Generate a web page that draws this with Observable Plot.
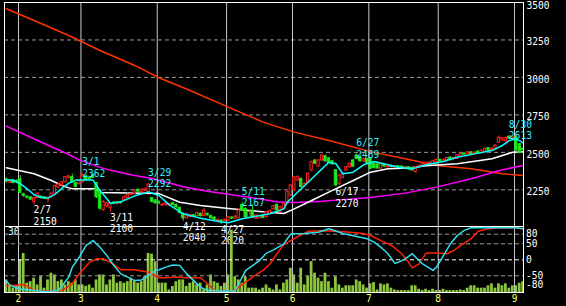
<!DOCTYPE html>
<html><head><meta charset="utf-8">
<script src="https://cdn.jsdelivr.net/npm/d3@7"></script>
<script src="https://cdn.jsdelivr.net/npm/@observablehq/plot@0.6"></script>
<style>
html,body{margin:0;padding:0;background:#000;}
#chart{position:relative;width:566px;height:306px;background:#000;overflow:hidden;}
#chart svg{position:absolute;left:0;}
</style></head><body><div id="chart"></div>
<script>
// ---- data (2022 trading days) ----
const dates = [
"1/26","1/27","1/28","1/31",
"2/1","2/2","2/3","2/4","2/7","2/8","2/9","2/10","2/14","2/15","2/16","2/17","2/18","2/21","2/22","2/24","2/25","2/28",
"3/1","3/2","3/3","3/4","3/7","3/8","3/9","3/10","3/11","3/14","3/15","3/16","3/17","3/18","3/22","3/23","3/24","3/25","3/28","3/29","3/30","3/31",
"4/1","4/4","4/5","4/6","4/7","4/8","4/11","4/12","4/13","4/14","4/15","4/18","4/19","4/20","4/21","4/22","4/25","4/26","4/27","4/28",
"5/2","5/6","5/9","5/10","5/11","5/12","5/13","5/16","5/17","5/18","5/19","5/20","5/23","5/24","5/25","5/26","5/27","5/30","5/31",
"6/1","6/2","6/3","6/6","6/7","6/8","6/9","6/10","6/13","6/14","6/15","6/16","6/17","6/20","6/21","6/22","6/23","6/24","6/27","6/28","6/29","6/30",
"7/1","7/4","7/5","7/6","7/7","7/8","7/11","7/12","7/13","7/14","7/15","7/19","7/20","7/21","7/22","7/25","7/26","7/27","7/28","7/29",
"8/1","8/2","8/3","8/4","8/5","8/8","8/9","8/10","8/12","8/15","8/16","8/17","8/18","8/19","8/22","8/23","8/24","8/25","8/26","8/29","8/30","8/31",
"9/1","9/2","9/5"];

const open = [2320,2300,2315,2310,2320,2220,2205,2200,2170,2195,2205,2200,2185,2200,2225,2265,2280,2300,2330,2335,2295,2290,
2300,2340,2330,2350,2295,2245,2115,2140,2130,2165,2155,2168,2180,2195,2215,2225,2250,2235,2245,2235,2195,2180,
2170,2145,2150,2145,2160,2150,2130,2090,2060,2070,2080,2075,2090,2075,2090,2075,2065,2042,2045,2040,
2045,2065,2058,2060,2150,2123,2061,2112,2058,2060,2075,2068,2090,2120,2150,2101,2123,2157,2212,
2246,2312,2323,2275,2297,2379,2446,2405,2446,2474,2460,2440,2380,2290,2330,2379,2400,2446,2480,2470,2440,2455,
2457,2424,2420,2392,2415,2400,2410,2400,2408,2405,2398,2401,2395,2370,2400,2410,2418,2425,2420,2435,
2450,2440,2448,2465,2455,2457,2475,2492,2485,2500,2488,2505,2495,2505,2528,2515,2525,2565,2580,2575,2605,2595,
2600,2555,2525];
const high = [2330,2318,2320,2318,2345,2228,2210,2205,2200,2232,2210,2205,2202,2228,2280,2292,2305,2340,2348,2355,2300,2315,
2362,2350,2335,2358,2300,2250,2178,2168,2165,2172,2172,2175,2210,2230,2230,2252,2255,2258,2262,2292,2200,2185,
2175,2160,2165,2160,2168,2155,2135,2095,2092,2088,2085,2100,2095,2125,2095,2080,2070,2055,2050,2055,
2072,2070,2080,2125,2167,2130,2110,2150,2085,2080,2080,2105,2115,2145,2155,2140,2162,2240,2285,
2340,2345,2330,2298,2365,2442,2450,2452,2487,2482,2465,2445,2385,2352,2362,2405,2430,2452,2489,2480,2462,2460,
2462,2430,2425,2422,2420,2415,2414,2412,2412,2410,2406,2405,2400,2405,2415,2425,2435,2438,2448,2455,
2455,2455,2466,2470,2468,2485,2495,2497,2505,2505,2503,2510,2514,2528,2532,2530,2550,2610,2600,2605,2613,2610,
2605,2560,2530];
const low = [2295,2292,2290,2290,2225,2200,2190,2178,2150,2190,2188,2185,2165,2195,2220,2258,2272,2296,2322,2295,2262,2282,
2295,2305,2312,2325,2190,2115,2108,2128,2100,2150,2148,2155,2175,2190,2210,2220,2232,2228,2240,2232,2160,2155,
2150,2140,2140,2140,2145,2125,2090,2040,2055,2062,2065,2070,2068,2070,2075,2055,2045,2036,2020,2035,
2040,2052,2052,2057,2105,2062,2055,2060,2052,2055,2058,2062,2085,2115,2108,2095,2118,2152,2205,
2240,2305,2262,2270,2290,2372,2418,2400,2440,2435,2425,2415,2270,2278,2325,2372,2395,2398,2450,2435,2435,2425,
2385,2390,2388,2388,2400,2396,2398,2396,2395,2390,2392,2380,2375,2360,2396,2405,2412,2420,2415,2430,
2435,2436,2444,2448,2450,2452,2470,2480,2480,2485,2484,2488,2490,2500,2508,2510,2520,2560,2575,2570,2585,2590,
2505,2490,2510];
const close = [2305,2310,2295,2300,2230,2210,2198,2185,2195,2225,2195,2190,2198,2225,2275,2285,2300,2335,2340,2300,2270,2310,
2345,2315,2320,2330,2200,2125,2170,2160,2160,2158,2165,2160,2200,2215,2222,2245,2238,2250,2252,2285,2170,2160,
2160,2150,2158,2155,2150,2135,2095,2060,2085,2080,2072,2095,2075,2110,2080,2060,2050,2050,2032,2048,
2067,2058,2070,2112,2112,2067,2101,2067,2078,2075,2062,2101,2110,2140,2112,2135,2157,2234,2279,
2334,2334,2268,2290,2357,2434,2424,2446,2479,2440,2430,2420,2280,2346,2357,2401,2425,2405,2457,2440,2456,2430,
2390,2395,2392,2417,2405,2410,2402,2408,2400,2395,2402,2385,2380,2400,2410,2420,2430,2432,2440,2450,
2440,2450,2462,2452,2462,2480,2490,2485,2500,2490,2498,2492,2510,2523,2512,2525,2545,2597,2595,2595,2592,2605,
2515,2495,2515];
const volume = [5.8,3.5,2.0,3.1,15,18,4.3,5,6.6,3.5, 7.3,2,5.8,8.9,8.1,5,5.8,3.5,5,4.3,
5.8,3.5,3.5,2.8,3.5,2,5.8,8.1,8.1,3.5, 5.8,8.1,4.3,5,4.3,5,6.6,5,4.3,5,
7.3,18,17.7,14.2,4.3,4.3,4.3,1.2,2.8,5, 5.8,5.8,2.8,4.3,5,3.5,4.3,1.2,3.5,8.1,
5,4.3,2.8,4.3,8.1,28.7,7.3,5.8,4.3,7.3, 2,2,2,1.2,2,3.5,2,1.2,3.5,1.2,
4.3,5.8,11.2,8.1,4.3,11.2,3.5,7.3,14.2,8.9, 6.6,5,8.9,5,2,7.3,3.5,2,3.1,3.1,
3.1,5.8,5,3.5,2,4,4.6,1.2,4,3.5, 4,2,1.2,0.9,0.9,0.9,0.9,3.1,3.1,1.5,
0.9,1.5,0.9,1.5,0.9,0.9,1.5,0.9,0.9,0.9, 0.9,1.2,0.9,2,3.1,3.1,2,2,2,3.1,
4,2,4,3.1,4,2,3.1,3.1,4.3,5];

// moving averages: [day index, price]
const maShort = [[0,2318],[2,2312],[4,2292],[6,2257],[8,2217],[10,2201],[12,2195],[14,2220],[16,2260],[18,2295],[20,2315],[22,2316],[25,2315],[27,2245],[30,2160],[33,2170],[37,2210],[41,2235],[44,2212],[47,2150],[51,2090],[56,2060],[62,2035],[64,2030],[68,2057],[72,2074],[76,2090],[80,2123],[81,2168],[83,2212],[86,2279],[89,2346],[91,2390],[93,2434],[95,2424],[97,2357],[100,2368],[103,2417],[106,2439],[110,2417],[113,2401],[117,2390],[121,2417],[126,2439],[130,2468],[135,2490],[140,2512],[143,2546],[145,2579],[147,2590],[149,2563]];
const maMid = [[0,2398],[8,2357],[13,2312],[16,2279],[18,2263],[19,2258],[26,2258],[27,2232],[44,2225],[50,2167],[56,2145],[64,2125],[70,2112],[80,2092],[83,2123],[88,2179],[94,2246],[100,2312],[105,2368],[110,2390],[116,2395],[121,2410],[130,2424],[140,2457],[146,2501],[149,2505]];
const maLong = [[0,2675],[9,2579],[18,2486],[21,2450],[27,2400],[30,2380],[37,2345],[42,2325],[51,2270],[58,2240],[64,2220],[70,2200],[78,2170],[83,2166],[91,2174],[96,2183],[105,2199],[115,2228],[124,2268],[134,2324],[143,2384],[149,2412]];
const maVeryLong = [[0,3458],[8,3380],[18,3280],[27,3180],[37,3080],[44,2998],[53,2913],[64,2802],[74,2702],[83,2635],[93,2579],[105,2505],[115,2457],[124,2412],[134,2390],[143,2357],[149,2346]];

// oscillator (lower panel): [day index, value]
const rciShort = [[0,-65],[1,-80],[4,-91],[8,-96],[12,-100],[15,-96],[18,-54],[19,-23],[21,8],[23,45],[25,60],[27,39],[29,13],[31,-18],[33,-44],[35,-54],[37,-65],[39,-63],[41,-49],[43,-33],[44,-31],[46,-23],[48,-16],[50,-18],[52,-44],[54,-65],[56,-86],[58,-96],[60,-96],[62,-98],[64,-98],[66,-96],[68,-54],[69,-33],[71,-18],[73,-2],[75,21],[77,31],[80,50],[82,81],[86,82],[90,86],[93,97],[95,90],[97,82],[101,73],[104,66],[106,55],[108,39],[110,19],[112,-11],[113,-8],[115,3],[117,19],[118,8],[120,-13],[123,-33],[124,-23],[126,13],[128,50],[130,76],[132,92],[134,100],[147,100],[149,97]];
const rciLong = [[0,-80],[2,-80],[5,-77],[8,-96],[12,-98],[16,-96],[19,-75],[21,-44],[24,-8],[26,3],[28,3],[30,-8],[33,-31],[37,-31],[41,-39],[44,-56],[46,-56],[49,-54],[52,-56],[56,-56],[58,-75],[60,-96],[62,-99],[65,-99],[67,-86],[69,-70],[71,-54],[74,-33],[76,-13],[78,19],[80,48],[83,66],[87,89],[91,91],[95,89],[99,86],[103,82],[105,76],[108,60],[111,45],[114,19],[116,-8],[117,-25],[119,-13],[121,21],[124,21],[127,19],[129,29],[131,45],[134,66],[136,89],[139,97],[142,100],[147,100],[149,97]];

const highDates = ["3/1","3/29","5/11","6/27","8/30"];
const highPrices = [2362,2292,2167,2489,2613];
const lowDates = ["2/7","3/11","4/12","4/27","6/17"];
const lowPrices = [2150,2100,2040,2020,2270];

const priceTicks = [2250,2500,2750,3000,3250];
const priceTopTick = [3500];
const oscTicks = [80,50,0,-50,-80];
const oscGrid = [80,50,-50];
const volumeTop = "30";

// ---- styles ----
const FONT = "DejaVu Sans Mono";
const RED = "#ff2020", GREEN = "#1ee61e", CYAN = "#00ffff", VOLC = "#8cc63f", YEL = "#ffff66";
const baseStyle = {background:"transparent", color:"#fff", fontFamily:FONT, fontSize:"9.6px", overflow:"visible"};
const X = {domain:[0,149], range:[5.86,522.7], axis:null};
const M = {width:566, marginLeft:4, marginRight:43};

const rows = dates.map((d,i)=>({i, d, o:open[i], h:high[i], l:low[i], c:close[i], up: close[i] >= open[i]}));
const months = [];
dates.forEach((d,i)=>{ if (i>0 && d.split("/")[0] !== dates[i-1].split("/")[0]) months.push({i, m:d.split("/")[0]}); });
const hiRows = highDates.map((d,k)=>({i:dates.indexOf(d), p:highPrices[k], t: d + "\n" + highPrices[k]}));
const loRows = lowDates.map((d,k)=>({i:dates.indexOf(d), p:lowPrices[k], t: d + "\n" + lowPrices[k]}));
const volRows = volume.map((v,i)=>({i, v}));
const xy = {x: d=>d[0], y: d=>d[1]};

const topPlot = Plot.plot({
  ...M, height:228, marginTop:2, marginBottom:2,
  x: X,
  y: {domain:[2000,3500], range:[226.8,2], axis:null},
  style: {...baseStyle, background:"#000"},
  marks: [
    Plot.ruleY(priceTicks, {stroke:"#9a9a9a", strokeDasharray:"4,3"}),
    Plot.ruleX(months, {x: d=>d.i-0.5, stroke:"#c8c8c8"}),
    Plot.line(maVeryLong, {...xy, stroke:"#ff3300", clip:true}),
    Plot.line(maLong, {...xy, stroke:"#ff00ff", clip:true}),
    Plot.line(maMid, {...xy, stroke:"#ffffff", clip:true}),
    Plot.ruleX(rows, {x:"i", y1:"l", y2:"h", stroke: d=>d.up?RED:GREEN, clip:true}),
    Plot.rect(rows, {x1: d=>d.i-0.33, x2: d=>d.i+0.33, y1:"o", y2:"c", fill: d=>d.up?"#000000":GREEN, stroke: d=>d.up?RED:GREEN, clip:true}),
    Plot.line(maShort, {...xy, stroke:CYAN, clip:true}),
    Plot.frame({stroke:"#fff"}),
    Plot.axisY({anchor:"right", ticks:priceTicks, tickSize:0, tickPadding:3, tickFormat:d=>String(d), fill:"#fff", dy:2.2}),
    Plot.axisY({anchor:"right", ticks:priceTopTick, tickSize:0, tickPadding:3, tickFormat:d=>String(d), fill:"#fff", dy:3.9}),
    Plot.text(hiRows, {x:"i", y:"p", text:"t", fill:"#33f0ff", textAnchor:"start", lineAnchor:"bottom", lineHeight:1.17, dx:-0.5, dy:3.5}),
    Plot.text(loRows, {x:"i", y:"p", text:"t", fill:"#fff", textAnchor:"start", lineAnchor:"top", lineHeight:1.17, dx:-0.5, dy:0.5})
  ]
});
topPlot.style.top = "0px";

const volPlot = Plot.plot({
  ...M, height:80, marginTop:0, marginBottom:14,
  x: X,
  y: {domain:[0,30], range:[66,1], axis:null},
  style: baseStyle,
  marks: [
    Plot.rect(volRows, {x1: d=>d.i-0.4, x2: d=>d.i+0.4, y1:0, y2:"v", fill:VOLC, clip:true}),
    Plot.text([volumeTop], {text:d=>d, frameAnchor:"top-left", textAnchor:"start", lineAnchor:"top", dx:3.5, dy:2, fill:"#fff"})
  ]
});
volPlot.style.top = "226px";

const oscPlot = Plot.plot({
  ...M, height:80, marginTop:0, marginBottom:14,
  x: X,
  y: {domain:[-100,100], range:[65.3,1.3], axis:null},
  style: baseStyle,
  marks: [
    Plot.ruleX(months, {x: d=>d.i-0.5, stroke:"#c8c8c8"}),
    Plot.ruleY(oscGrid, {stroke:"#9a9a9a", strokeDasharray:"4,3"}),
    Plot.ruleY([0], {stroke:"#ffffff", strokeDasharray:"4,3"}),
    Plot.line(rciLong, {...xy, stroke:"#ff2200", clip:true}),
    Plot.line(rciShort, {...xy, stroke:"#33ddee", clip:true}),
    Plot.frame({stroke:"#fff"}),
    Plot.axisY({anchor:"right", ticks:oscTicks, tickSize:0, tickPadding:2.5, tickFormat:d=>String(d), fill:"#fff"}),
    Plot.text(months, {x: d=>d.i-0.5, text:"m", frameAnchor:"bottom", lineAnchor:"middle", textAnchor:"middle", dy:6.5, fill:YEL})
  ]
});
oscPlot.style.top = "226px";

const root = document.getElementById("chart");
root.append(topPlot, volPlot, oscPlot);
</script>
</body></html>
